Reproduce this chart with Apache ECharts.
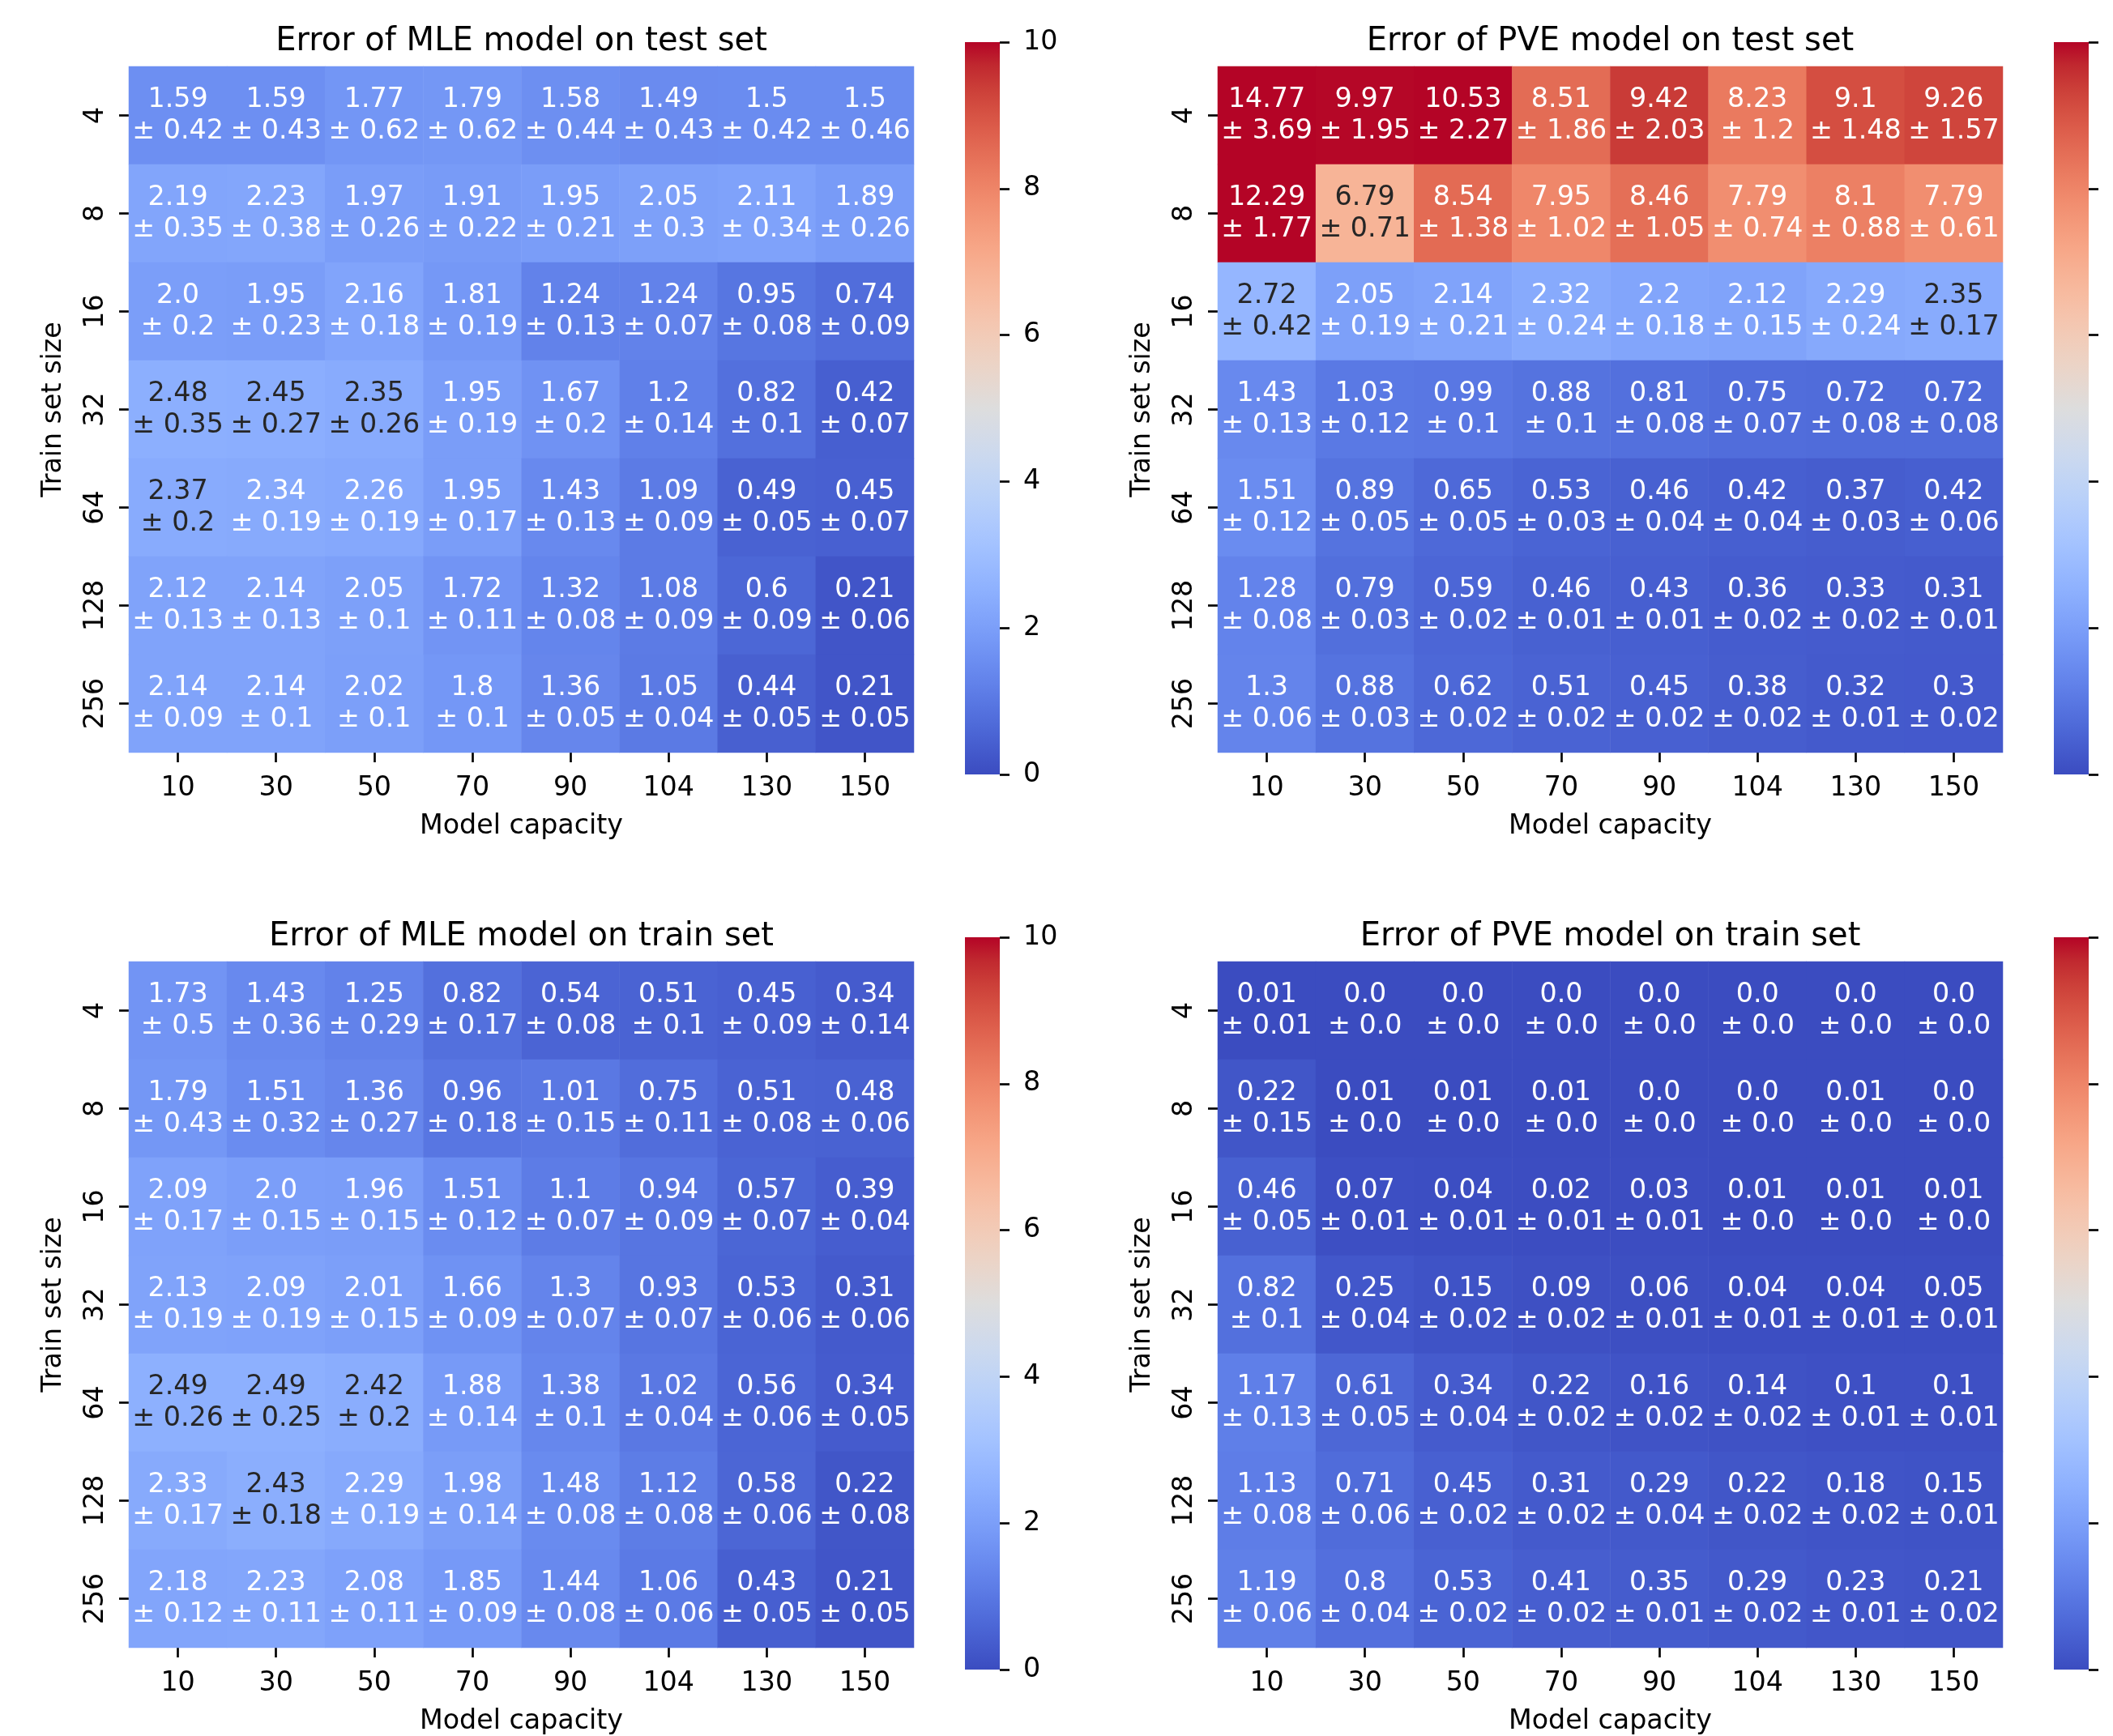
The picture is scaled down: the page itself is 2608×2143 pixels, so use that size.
<!DOCTYPE html>
<html>
<head>
<meta charset="utf-8">
<script src="https://cdn.jsdelivr.net/npm/echarts@6/dist/echarts.min.js"></script>
<style>
html, body { margin: 0; padding: 0; background: #fff; }
#chart { width: 2608px; height: 2143px; }
</style>
</head>
<body>
<div id="chart"></div>
<script>
var capacities = ['10', '30', '50', '70', '90', '104', '130', '150'];
var trainSizes = ['4', '8', '16', '32', '64', '128', '256'];
var cbarMin = 0, cbarMax = 10, cbarStep = 2;

var mleTestMean = [
    [1.59, 1.59, 1.77, 1.79, 1.58, 1.49, 1.5, 1.5],
    [2.19, 2.23, 1.97, 1.91, 1.95, 2.05, 2.11, 1.89],
    [2.0, 1.95, 2.16, 1.81, 1.24, 1.24, 0.95, 0.74],
    [2.48, 2.45, 2.35, 1.95, 1.67, 1.2, 0.82, 0.42],
    [2.37, 2.34, 2.26, 1.95, 1.43, 1.09, 0.49, 0.45],
    [2.12, 2.14, 2.05, 1.72, 1.32, 1.08, 0.6, 0.21],
    [2.14, 2.14, 2.02, 1.8, 1.36, 1.05, 0.44, 0.21]
];
var mleTestStd = [
    [0.42, 0.43, 0.62, 0.62, 0.44, 0.43, 0.42, 0.46],
    [0.35, 0.38, 0.26, 0.22, 0.21, 0.3, 0.34, 0.26],
    [0.2, 0.23, 0.18, 0.19, 0.13, 0.07, 0.08, 0.09],
    [0.35, 0.27, 0.26, 0.19, 0.2, 0.14, 0.1, 0.07],
    [0.2, 0.19, 0.19, 0.17, 0.13, 0.09, 0.05, 0.07],
    [0.13, 0.13, 0.1, 0.11, 0.08, 0.09, 0.09, 0.06],
    [0.09, 0.1, 0.1, 0.1, 0.05, 0.04, 0.05, 0.05]
];
var pveTestMean = [
    [14.77, 9.97, 10.53, 8.51, 9.42, 8.23, 9.1, 9.26],
    [12.29, 6.79, 8.54, 7.95, 8.46, 7.79, 8.1, 7.79],
    [2.72, 2.05, 2.14, 2.32, 2.2, 2.12, 2.29, 2.35],
    [1.43, 1.03, 0.99, 0.88, 0.81, 0.75, 0.72, 0.72],
    [1.51, 0.89, 0.65, 0.53, 0.46, 0.42, 0.37, 0.42],
    [1.28, 0.79, 0.59, 0.46, 0.43, 0.36, 0.33, 0.31],
    [1.3, 0.88, 0.62, 0.51, 0.45, 0.38, 0.32, 0.3]
];
var pveTestStd = [
    [3.69, 1.95, 2.27, 1.86, 2.03, 1.2, 1.48, 1.57],
    [1.77, 0.71, 1.38, 1.02, 1.05, 0.74, 0.88, 0.61],
    [0.42, 0.19, 0.21, 0.24, 0.18, 0.15, 0.24, 0.17],
    [0.13, 0.12, 0.1, 0.1, 0.08, 0.07, 0.08, 0.08],
    [0.12, 0.05, 0.05, 0.03, 0.04, 0.04, 0.03, 0.06],
    [0.08, 0.03, 0.02, 0.01, 0.01, 0.02, 0.02, 0.01],
    [0.06, 0.03, 0.02, 0.02, 0.02, 0.02, 0.01, 0.02]
];
var mleTrainMean = [
    [1.73, 1.43, 1.25, 0.82, 0.54, 0.51, 0.45, 0.34],
    [1.79, 1.51, 1.36, 0.96, 1.01, 0.75, 0.51, 0.48],
    [2.09, 2.0, 1.96, 1.51, 1.1, 0.94, 0.57, 0.39],
    [2.13, 2.09, 2.01, 1.66, 1.3, 0.93, 0.53, 0.31],
    [2.49, 2.49, 2.42, 1.88, 1.38, 1.02, 0.56, 0.34],
    [2.33, 2.43, 2.29, 1.98, 1.48, 1.12, 0.58, 0.22],
    [2.18, 2.23, 2.08, 1.85, 1.44, 1.06, 0.43, 0.21]
];
var mleTrainStd = [
    [0.5, 0.36, 0.29, 0.17, 0.08, 0.1, 0.09, 0.14],
    [0.43, 0.32, 0.27, 0.18, 0.15, 0.11, 0.08, 0.06],
    [0.17, 0.15, 0.15, 0.12, 0.07, 0.09, 0.07, 0.04],
    [0.19, 0.19, 0.15, 0.09, 0.07, 0.07, 0.06, 0.06],
    [0.26, 0.25, 0.2, 0.14, 0.1, 0.04, 0.06, 0.05],
    [0.17, 0.18, 0.19, 0.14, 0.08, 0.08, 0.06, 0.08],
    [0.12, 0.11, 0.11, 0.09, 0.08, 0.06, 0.05, 0.05]
];
var pveTrainMean = [
    [0.01, 0.0, 0.0, 0.0, 0.0, 0.0, 0.0, 0.0],
    [0.22, 0.01, 0.01, 0.01, 0.0, 0.0, 0.01, 0.0],
    [0.46, 0.07, 0.04, 0.02, 0.03, 0.01, 0.01, 0.01],
    [0.82, 0.25, 0.15, 0.09, 0.06, 0.04, 0.04, 0.05],
    [1.17, 0.61, 0.34, 0.22, 0.16, 0.14, 0.1, 0.1],
    [1.13, 0.71, 0.45, 0.31, 0.29, 0.22, 0.18, 0.15],
    [1.19, 0.8, 0.53, 0.41, 0.35, 0.29, 0.23, 0.21]
];
var pveTrainStd = [
    [0.01, 0.0, 0.0, 0.0, 0.0, 0.0, 0.0, 0.0],
    [0.15, 0.0, 0.0, 0.0, 0.0, 0.0, 0.0, 0.0],
    [0.05, 0.01, 0.01, 0.01, 0.01, 0.0, 0.0, 0.0],
    [0.1, 0.04, 0.02, 0.02, 0.01, 0.01, 0.01, 0.01],
    [0.13, 0.05, 0.04, 0.02, 0.02, 0.02, 0.01, 0.01],
    [0.08, 0.06, 0.02, 0.02, 0.04, 0.02, 0.02, 0.01],
    [0.06, 0.04, 0.02, 0.02, 0.01, 0.02, 0.01, 0.02]
];

// coolwarm (Moreland), 33 steps
var coolwarm = [
    [59,76,192],[68,90,204],[77,104,215],[87,117,225],[98,130,234],[108,142,241],
    [119,154,247],[130,165,251],[141,176,254],[152,185,255],[163,194,255],[174,201,253],
    [184,208,249],[194,213,244],[204,217,238],[213,219,230],[221,221,221],[229,216,209],
    [236,211,197],[241,204,185],[245,196,173],[247,187,160],[247,177,148],[247,166,135],
    [244,154,123],[241,141,111],[236,127,99],[229,112,88],[222,96,77],[213,80,66],
    [203,62,56],[192,40,47],[180,4,38]
];
var coolwarmHex = coolwarm.map(function (c) {
    return 'rgb(' + c[0] + ',' + c[1] + ',' + c[2] + ')';
});

var FONT = 'DejaVu Sans';
var FS = 33.3;

// same lookup as a 256-entry matplotlib colormap
function cmap(v) {
    var x = (v - cbarMin) / (cbarMax - cbarMin);
    var i = Math.floor(x * 256);
    if (i < 0) i = 0;
    if (i > 255) i = 255;
    var p = i / 255 * 32;
    var k = Math.min(Math.floor(p), 31);
    var f = p - k;
    return [0, 1, 2].map(function (j) {
        return coolwarm[k][j] + (coolwarm[k + 1][j] - coolwarm[k][j]) * f;
    });
}
function textColor(v) {
    var lin = cmap(v).map(function (c) {
        c = c / 255;
        return c <= 0.03928 ? c / 12.92 : Math.pow((c + 0.055) / 1.055, 2.4);
    });
    var lum = 0.2126 * lin[0] + 0.7152 * lin[1] + 0.0722 * lin[2];
    return lum > 0.408 ? '#262626' : '#ffffff';
}
function pyStr(v) {
    return Number.isInteger(v) ? v.toFixed(1) : String(v);
}

var panels = [
    { title: 'Error of MLE model on test set', mean: mleTestMean, std: mleTestStd, left: 159, top: 82 },
    { title: 'Error of PVE model on test set', mean: pveTestMean, std: pveTestStd, left: 1503, top: 82 },
    { title: 'Error of MLE model on train set', mean: mleTrainMean, std: mleTrainStd, left: 159, top: 1187 },
    { title: 'Error of PVE model on train set', mean: pveTrainMean, std: pveTrainStd, left: 1503, top: 1187 }
];
var plotW = 969, plotH = 847;

var grids = [], xAxes = [], yAxes = [], series = [], titles = [], heatIdx = [];
var tickStyle = { color: '#000', width: 2.67 };

panels.forEach(function (p, n) {
    grids.push({ left: p.left, top: p.top, width: plotW, height: plotH, outerBoundsMode: 'none', containLabel: false });
    grids.push({ left: p.left + plotW + 63, top: p.top - 30, width: 43, height: plotH + 57, outerBoundsMode: 'none', containLabel: false });

    titles.push({
        text: p.title,
        left: p.left + plotW / 2,
        top: p.top - 50,
        textAlign: 'center',
        padding: 0,
        textStyle: { fontFamily: FONT, fontSize: 40, fontWeight: 'normal', color: '#000' }
    });

    xAxes.push({
        type: 'category', gridIndex: 2 * n, data: capacities,
        axisLine: { show: false },
        axisTick: { show: true, alignWithLabel: true, length: 12, lineStyle: tickStyle },
        axisLabel: { fontFamily: FONT, fontSize: FS, color: '#000', margin: 28 },
        splitLine: { show: false },
        name: 'Model capacity', nameLocation: 'middle', nameGap: 75,
        nameTextStyle: { fontFamily: FONT, fontSize: FS, color: '#000' }
    });
    yAxes.push({
        type: 'category', gridIndex: 2 * n, data: trainSizes, inverse: true,
        axisLine: { show: false },
        axisTick: { show: true, alignWithLabel: true, length: 12, lineStyle: tickStyle },
        axisLabel: { fontFamily: FONT, fontSize: FS, color: '#000', margin: 24, rotate: 90 },
        splitLine: { show: false },
        name: 'Train set size', nameLocation: 'middle', nameGap: 76, nameRotate: 90,
        nameTextStyle: { fontFamily: FONT, fontSize: FS, color: '#000' }
    });
    xAxes.push({
        type: 'category', gridIndex: 2 * n + 1, data: ['cbar'], show: false
    });
    yAxes.push({
        type: 'value', gridIndex: 2 * n + 1, position: 'right',
        min: cbarMin, max: cbarMax, interval: cbarStep,
        axisLine: { show: false },
        axisTick: { show: true, length: 12, lineStyle: tickStyle },
        axisLabel: { fontFamily: FONT, fontSize: FS, color: '#000', margin: 29 },
        splitLine: { show: false }
    });

    var data = [];
    p.mean.forEach(function (row, r) {
        row.forEach(function (v, c) {
            data.push({
                value: [c, r, v],
                label: { color: textColor(v) }
            });
        });
    });
    heatIdx.push(series.length);
    series.push({
        type: 'heatmap',
        xAxisIndex: 2 * n, yAxisIndex: 2 * n,
        data: data,
        silent: true,
        progressive: 0,
        label: {
            show: true,
            fontFamily: FONT,
            fontSize: FS,
            lineHeight: 39,
            align: 'center',
            formatter: function (it) {
                var c = it.value[0], r = it.value[1];
                return pyStr(p.mean[r][c]) + '\n\u00b1 ' + pyStr(p.std[r][c]);
            }
        },
        emphasis: { disabled: true }
    });

    series.push({
        type: 'bar',
        xAxisIndex: 2 * n + 1, yAxisIndex: 2 * n + 1,
        data: [cbarMax],
        barWidth: '100%',
        silent: true,
        itemStyle: {
            color: {
                type: 'linear', x: 0, y: 1, x2: 0, y2: 0,
                colorStops: coolwarmHex.map(function (c, k) {
                    return { offset: k / 32, color: c };
                })
            }
        }
    });
});

var chart = echarts.init(document.getElementById('chart'));
chart.setOption({
    backgroundColor: '#ffffff',
    animation: false,
    title: titles,
    grid: grids,
    xAxis: xAxes,
    yAxis: yAxes,
    visualMap: {
        type: 'continuous',
        show: false,
        min: cbarMin,
        max: cbarMax,
        seriesIndex: heatIdx,
        inRange: { color: coolwarmHex }
    },
    series: series
});
</script>
</body>
</html>
